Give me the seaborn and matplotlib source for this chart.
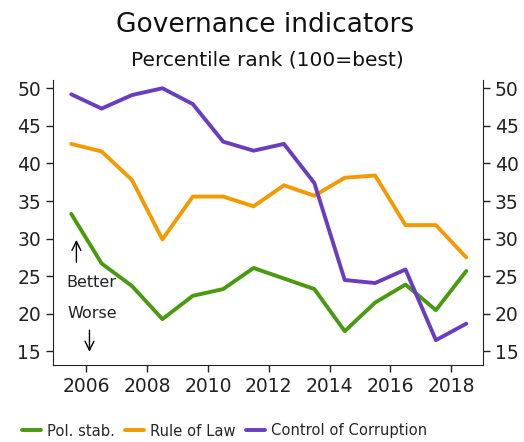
import seaborn as sns
from matplotlib import pyplot as plt
import pandas as pd

years = [2005.5, 2006.5, 2007.5, 2008.5, 2009.5, 2010.5, 2011.5, 2012.5,
         2013.5, 2014.5, 2015.5, 2016.5, 2017.5, 2018.5]
pol_stab = [33.3, 26.7, 23.7, 19.3, 22.4, 23.3, 26.1, 24.7, 23.3, 17.7, 21.5, 23.9, 20.5, 25.7]
rule_of_law = [42.6, 41.6, 37.8, 29.9, 35.6, 35.6, 34.3, 37.1, 35.7, 38.1, 38.4, 31.8, 31.8, 27.5]
corruption = [49.2, 47.3, 49.1, 50.0, 47.9, 42.9, 41.7, 42.6, 37.4, 24.5, 24.1, 25.9, 16.5, 18.7]
series_names = ['Pol. stab.', 'Rule of Law', 'Control of Corruption']
colors = ['#4a9a10', '#f39a00', '#6a3dc0']

d = pd.DataFrame({'year': years, 'Pol. stab.': pol_stab,
                  'Rule of Law': rule_of_law, 'Control of Corruption': corruption})
d = d.melt(id_vars='year', var_name='series', value_name='value')

sns.set_style('ticks')
plt.rcParams['font.family'] = ['DejaVu Sans']

f = plt.figure(figsize=(5.24, 4.42), dpi=100)
ax = f.add_axes([53/524, 1 - 365/442, (483-53)/524, (365-80)/442])
sns.lineplot(data=d, x='year', y='value', hue='series', hue_order=series_names,
             palette=colors, linewidth=2.8, ax=ax, legend=True)

ax.set_xlim(2004.9, 2019.05)
ax.set_ylim(13.2, 51.1)
ax.set_xticks(range(2006, 2019, 2))
ax.set_yticks(range(15, 51, 5))
ax.set_xlabel('')
ax.set_ylabel('')
ax.spines['top'].set_visible(False)
ax.tick_params(axis='both', labelsize=13.5, length=5, width=1, colors='#222222', labelcolor='#222222')
ax.tick_params(axis='y', right=True, labelright=True)
for s in ['left', 'right', 'bottom']:
    ax.spines[s].set_color('#222222')

# better / worse hints
ax.annotate('', xy=(2005.67, 30.2), xytext=(2005.67, 26.5),
            arrowprops=dict(arrowstyle='->', color='black', lw=1, mutation_scale=16))
ax.text(2006.15, 24.2, 'Better', ha='center', va='center', fontsize=11.5, color='#222222')
ax.text(2006.2, 20.0, 'Worse', ha='center', va='center', fontsize=11.5, color='#222222')
ax.annotate('', xy=(2006.1, 14.6), xytext=(2006.1, 18.2),
            arrowprops=dict(arrowstyle='->', color='black', lw=1, mutation_scale=16))

f.text(0.505, 1 - 25/442, 'Governance indicators', ha='center', va='center', fontsize=19, color='#111111')
f.text(0.51, 1 - 60/442, 'Percentile rank (100=best)', ha='center', va='center', fontsize=14.5, color='#111111')

ax.legend(loc='center left', bbox_to_anchor=(22/524, 1 - 431/442), bbox_transform=f.transFigure,
          ncol=3, frameon=False, fontsize=10.6, handlelength=1.3, handletextpad=0.4,
          columnspacing=0.7, borderaxespad=0, borderpad=0)
plt.savefig('out.png', dpi=100)
